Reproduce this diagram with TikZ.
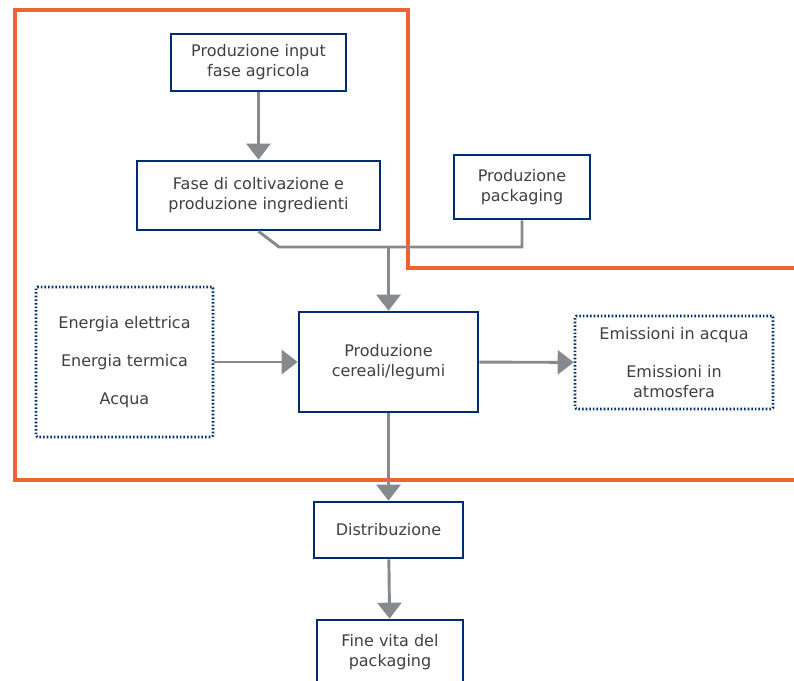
\documentclass[tikz,border=0pt]{standalone}
\usepackage{fontspec}
\setmainfont{DejaVu Sans}
\usetikzlibrary{arrows.meta}
\definecolor{boxblue}{RGB}{0,45,114}
\definecolor{txtgray}{RGB}{64,64,64}
\definecolor{arrgray}{RGB}{135,138,140}
\definecolor{frameorange}{RGB}{238,100,48}
\begin{document}
\begin{tikzpicture}[x=0.75pt,y=0.75pt,yscale=-1,xscale=1,
  font=\fontsize{12}{15}\selectfont,
  box/.style={draw=boxblue, line width=2pt, fill=white, text=txtgray, align=center, inner sep=0pt},
  dotbox/.style={draw=boxblue, line width=1.9pt, dash pattern=on 1.2pt off 1.5pt, rounded corners=1pt, text=txtgray, align=center, inner sep=0pt},
  flow/.style={draw=arrgray, line width=2.2pt, -{Triangle[width=18pt,length=12pt]}},
  link/.style={draw=arrgray, line width=2.2pt},
  frame/.style={draw=frameorange, line width=3pt}]
\useasboundingbox (0,0) rectangle (794,681);

% system boundary
\draw [frame] (800,268) -- (408,268) -- (408,10) -- (15,10) -- (15,480) -- (800,480) ;

% Boxes
\node [box, minimum width=131.25pt, minimum height=42.75pt] (inp) at (258.5,62.5) {Produzione input\\fase agricola};
\node [box, minimum width=182.25pt, minimum height=51.75pt] (colt) at (258.5,195.5) {Fase di coltivazione e\\produzione ingredienti};
\node [box, minimum width=102pt, minimum height=48pt] (pack) at (522,187) {Produzione\\packaging};
\node [box, minimum width=134.25pt, minimum height=75pt] (cer) at (388.5,362) {Produzione\\cereali/legumi};
\node [dotbox, minimum width=132.75pt, minimum height=112.5pt] (inl) at (124.5,362) {Energia elettrica\\[13.5pt]Energia termica\\[13.5pt]Acqua};
\node [dotbox, minimum width=148.5pt, minimum height=69.75pt] (outr) at (674,362.5) {Emissioni in acqua\\[13.5pt]Emissioni in\\atmosfera};
\node [box, minimum width=111.75pt, minimum height=42pt] (dist) at (388.5,530) {Distribuzione};
\node [box, minimum width=109.5pt, minimum height=48pt] (fine) at (390,652) {Fine vita del\\packaging};

% Connectors
\coordinate (j1) at (279,247);
\coordinate (j2) at (cer.north |- j1);
\draw [flow] (inp) -- (colt);
\draw [link] (colt.south) -- (j1) -- (pack.south |- j1) -- (pack.south) ;
\draw [flow] (j2) -- (cer.north);
\draw [flow] (inl) -- (cer);
\draw [flow] (cer) -- (outr);
\draw [flow] (cer) -- (dist);
\draw [flow] (dist) -- (fine);

\end{tikzpicture}
\end{document}
